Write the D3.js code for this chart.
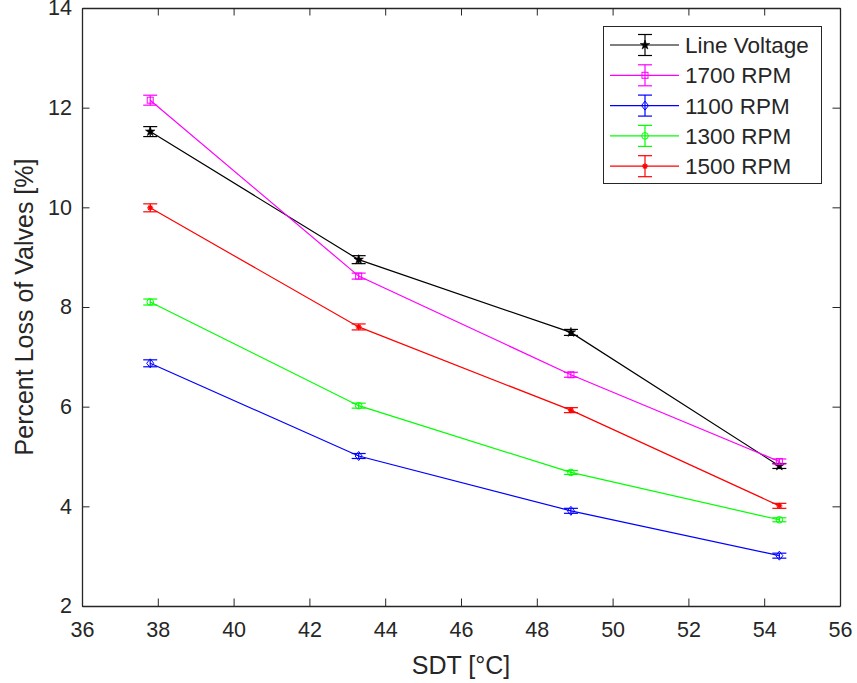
<!DOCTYPE html>
<html>
<head>
<meta charset="utf-8">
<script src="https://d3js.org/d3.v7.min.js"></script>
<style>
body { margin: 0; background: #fff; }
text { font-family: "Liberation Sans", Arial, sans-serif; fill: #262626; }
</style>
</head>
<body>
<svg width="857" height="683"></svg>
<script>
// data
var sdt = [37.8, 43.3, 48.9, 54.4];
var seriesNames = ["Line Voltage", "1700 RPM", "1100 RPM", "1300 RPM", "1500 RPM"];
var lineVoltage = [11.52, 8.95, 7.49, 4.81];
var rpm1700 = [12.15, 8.62, 6.64, 4.90];
var rpm1100 = [6.87, 5.01, 3.91, 3.01];
var rpm1300 = [8.10, 6.02, 4.68, 3.73];
var rpm1500 = [9.99, 7.60, 5.93, 4.01];
var errLV = [0.10, 0.08, 0.06, 0.05];
var err1700 = [0.10, 0.06, 0.05, 0.05];
var err1100 = [0.07, 0.05, 0.05, 0.05];
var err1300 = [0.06, 0.05, 0.04, 0.04];
var err1500 = [0.08, 0.06, 0.05, 0.05];
var xTicks = [36, 38, 40, 42, 44, 46, 48, 50, 52, 54, 56];
var yTicks = [2, 4, 6, 8, 10, 12, 14];

var colors = ["#000000", "#ff00ff", "#0000ff", "#00ff00", "#ff0000"];
var markers = ["star", "square", "diamond", "circle", "asterisk"];
var values = [lineVoltage, rpm1700, rpm1100, rpm1300, rpm1500];
var errors = [errLV, err1700, err1100, err1300, err1500];

var svg = d3.select("svg");
var mLeft = 82, mRight = 840, mTop = 8, mBottom = 606;

var x = d3.scaleLinear().domain([36, 56]).range([mLeft, mRight]);
var y = d3.scaleLinear().domain([2, 14]).range([mBottom, mTop]);

var axisColor = "#262626";
var tickLen = 7.5;

// axes with inward ticks, mirrored on top/right (box on)
var gx = svg.append("g").attr("transform", "translate(0," + mBottom + ")")
  .call(d3.axisBottom(x).tickValues(xTicks).tickSizeInner(-tickLen).tickSizeOuter(0).tickPadding(16));
var gxt = svg.append("g").attr("transform", "translate(0," + mTop + ")")
  .call(d3.axisTop(x).tickValues(xTicks).tickSizeInner(-tickLen).tickSizeOuter(0).tickFormat(""));
var gy = svg.append("g").attr("transform", "translate(" + mLeft + ",0)")
  .call(d3.axisLeft(y).tickValues(yTicks).tickSizeInner(-tickLen).tickSizeOuter(0).tickPadding(10));
var gyr = svg.append("g").attr("transform", "translate(" + mRight + ",0)")
  .call(d3.axisRight(y).tickValues(yTicks).tickSizeInner(-tickLen).tickSizeOuter(0).tickFormat(""));

[gx, gxt, gy, gyr].forEach(function(g) {
  g.selectAll("path").attr("stroke", axisColor).attr("stroke-width", 1.3);
  g.selectAll("line").attr("stroke", axisColor).attr("stroke-width", 1);
  g.selectAll("text").attr("font-size", 21.5).attr("fill", axisColor)
    .style("font-family", "'Liberation Sans', Arial, sans-serif");
});

svg.append("text")
  .attr("x", (mLeft + mRight) / 2).attr("y", 674)
  .attr("text-anchor", "middle").attr("font-size", 25)
  .text("SDT [\u00B0C]");

svg.append("text")
  .attr("transform", "translate(33," + ((mTop + mBottom) / 2) + ") rotate(-90)")
  .attr("text-anchor", "middle").attr("font-size", 25)
  .text("Percent Loss of Valves [%]");

function drawMarker(g, type, cx, cy, color) {
  var s;
  if (type === "square") {
    g.append("rect").attr("x", cx - 3).attr("y", cy - 3).attr("width", 6).attr("height", 6)
      .attr("fill", "none").attr("stroke", color).attr("stroke-width", 1);
  } else if (type === "diamond") {
    g.append("path").attr("d", "M" + cx + "," + (cy - 4.5) + "L" + (cx + 3.5) + "," + cy + "L" + cx + "," + (cy + 4.5) + "L" + (cx - 3.5) + "," + cy + "Z")
      .attr("fill", "none").attr("stroke", color).attr("stroke-width", 1);
  } else if (type === "circle") {
    g.append("circle").attr("cx", cx).attr("cy", cy).attr("r", 3.3)
      .attr("fill", "none").attr("stroke", color).attr("stroke-width", 1);
  } else if (type === "star") {
    s = d3.symbol().type(d3.symbolStar).size(28);
    g.append("path").attr("d", s()).attr("transform", "translate(" + cx + "," + cy + ")")
      .attr("fill", color).attr("stroke", color).attr("stroke-width", 0.6);
  } else if (type === "asterisk") {
    var r = 3;
    var p = "M" + (cx - r) + "," + cy + "L" + (cx + r) + "," + cy +
      "M" + (cx - r * 0.7) + "," + (cy - r * 0.7) + "L" + (cx + r * 0.7) + "," + (cy + r * 0.7) +
      "M" + (cx - r * 0.7) + "," + (cy + r * 0.7) + "L" + (cx + r * 0.7) + "," + (cy - r * 0.7) +
      "M" + cx + "," + (cy - r) + "L" + cx + "," + (cy + r);
    g.append("path").attr("d", p).attr("stroke", color).attr("stroke-width", 1.2).attr("fill", "none");
  }
}

var line = d3.line().x(function(d) { return x(d[0]); }).y(function(d) { return y(d[1]); });
var capW = 7;

values.forEach(function(vals, k) {
  var g = svg.append("g");
  var pts = sdt.map(function(v, i) { return [v, vals[i]]; });
  g.append("path").attr("d", line(pts)).attr("fill", "none")
    .attr("stroke", colors[k]).attr("stroke-width", 1.2);
  pts.forEach(function(p, i) {
    var px = x(p[0]);
    var y0 = y(p[1] - errors[k][i]), y1 = y(p[1] + errors[k][i]);
    g.append("line").attr("x1", px).attr("x2", px).attr("y1", y0).attr("y2", y1)
      .attr("stroke", colors[k]).attr("stroke-width", 1.2);
    [y0, y1].forEach(function(yy) {
      g.append("line").attr("x1", px - capW).attr("x2", px + capW).attr("y1", yy).attr("y2", yy)
        .attr("stroke", colors[k]).attr("stroke-width", 1.2);
    });
    drawMarker(g, markers[k], px, y(p[1]), colors[k]);
  });
});

// legend
var lg = svg.append("g");
lg.append("rect").attr("x", 603.5).attr("y", 26.5).attr("width", 218).attr("height", 157)
  .attr("fill", "#fff").attr("stroke", axisColor).attr("stroke-width", 1);
seriesNames.forEach(function(name, k) {
  var cy = 45 + k * 30.3;
  var cx = 645;
  lg.append("line").attr("x1", 610).attr("x2", 679).attr("y1", cy).attr("y2", cy)
    .attr("stroke", colors[k]).attr("stroke-width", 1.2);
  lg.append("line").attr("x1", cx).attr("x2", cx).attr("y1", cy - 10.5).attr("y2", cy + 10.5)
    .attr("stroke", colors[k]).attr("stroke-width", 1.2);
  [cy - 10.5, cy + 10.5].forEach(function(yy) {
    lg.append("line").attr("x1", cx - capW).attr("x2", cx + capW).attr("y1", yy).attr("y2", yy)
      .attr("stroke", colors[k]).attr("stroke-width", 1.2);
  });
  drawMarker(lg, markers[k], cx, cy, colors[k]);
  lg.append("text").attr("x", 685).attr("y", cy + 8).attr("font-size", 22.5).attr("fill", "#000")
    .text(name);
});
</script>
</body>
</html>
